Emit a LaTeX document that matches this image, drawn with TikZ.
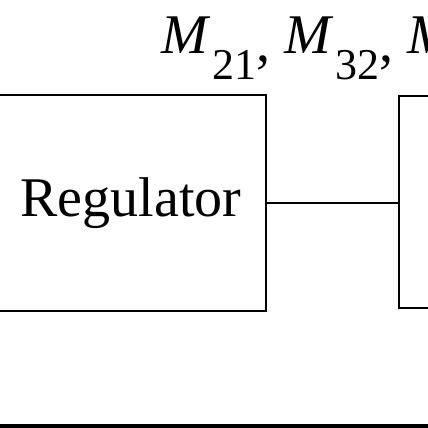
\documentclass[tikz,border=0pt]{standalone}
\usepackage{fontspec}
\setmainfont{Liberation Serif}
\usetikzlibrary{positioning}
\newcommand{\lowidx}[1]{\kern2pt\raisebox{-25pt}{\fontsize{44}{44}\selectfont #1}}
\newcommand{\lowcomma}{\raisebox{-8pt}{,}}

\begin{document}
\begin{tikzpicture}[x=1pt, y=-1pt,
    block/.style={draw, line width=2pt, inner sep=0pt},
    font=\fontsize{56}{60}\selectfont]
    \useasboundingbox (0,0) rectangle (428,428);

    % blocks
    \node[block, minimum width=269.4pt, minimum height=215.7pt] (regbox) at (131,202.85) {Regulator};
    \node[block, anchor=north west, minimum width=120pt, minimum height=211.7pt] (plant) at (398,95) {};
    \draw[line width=2pt] (regbox.east) -- (regbox.east -| plant.west);

    % gain labels
    \node[anchor=base west, inner sep=0pt] (gains) at (161,54)
        {\textit{M}\lowidx{21}\lowcomma\ \textit{M}\lowidx{32}\lowcomma\ \textit{M}};

    \draw[line width=3.3pt] (0,426) -- (428,426);
\end{tikzpicture}
\end{document}
